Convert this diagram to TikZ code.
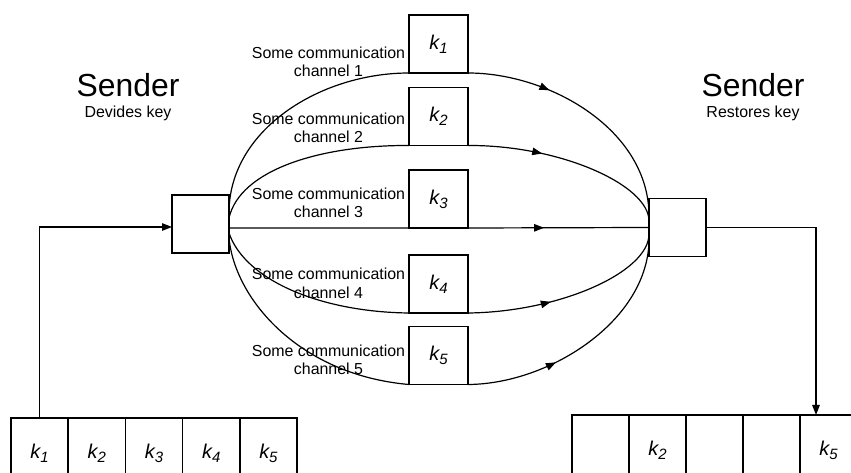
\documentclass[tikz,border=0pt]{standalone}
\usepackage{fontspec}
\setmainfont{Liberation Sans}
\usetikzlibrary{arrows.meta,decorations.markings}
\newcommand{\kk}[1]{\fontsize{20}{22}\selectfont\itshape k\raisebox{-4bp}{\fontsize{15}{15}\selectfont #1}}
\begin{document}
\begin{tikzpicture}[x=1bp,y=-1bp,
  box/.style={draw,line width=1.5bp,minimum width=57bp,minimum height=58bp,inner sep=0,outer sep=0},
  kbox/.style={draw,line width=1.5bp,minimum width=59bp,minimum height=58bp,inner sep=0,outer sep=0},
  cell/.style={draw,line width=1.5bp,minimum width=57.2bp,minimum height=70bp,inner sep=0,outer sep=0},
  chan/.style={line width=1.2bp},
  midarr/.style={postaction={decorate},decoration={markings,mark=at position #1 with {\arrow{Triangle[length=10bp,width=7.5bp]}}}},
  big/.style={font=\fontsize{32}{36}\selectfont,inner sep=0,anchor=base},
  small/.style={font=\fontsize{16}{19}\selectfont,inner sep=0,anchor=base},
  lab/.style={font=\fontsize{16}{19}\selectfont,inner sep=0,anchor=base},
  tip/.style={line width=1.2bp,-{Triangle[length=10bp,width=7.5bp]}}
]
\useasboundingbox (0,0) rectangle (851,473);
\clip (0,0) rectangle (851,473);

% titles
\node[big] (s1) at (128,97) {Sender};
\node[small] (s1b) at (128,118) {Devides key};
\node[big] (s2) at (753,97) {Sender};
\node[small] (s2b) at (753,118) {Restores key};

% main boxes
\node[box] (L) at (200.5,224) {};
\node[box] (R) at (677.5,227.5) {};

% key boxes
\node[kbox] (k1) at (438.5,44) {\kk{1}};
\node[kbox] (k2) at (438.5,116.5) {\kk{2}};
\node[kbox] (k3) at (438.5,199) {\kk{3}};
\node[kbox] (k4) at (438.5,284) {\kk{4}};
\node[kbox] (k5) at (438.5,355.5) {\kk{5}};

% channel labels
\node[lab] (c1a) at (328.5,59) {Some communication};
\node[lab] (c1b) at (328.5,77) {channel 1};
\node[lab] (c2a) at (328.5,125) {Some communication};
\node[lab] (c2b) at (328.5,143) {channel 2};
\node[lab] (c3a) at (328.5,200) {Some communication};
\node[lab] (c3b) at (328.5,218) {channel 3};
\node[lab] (c4a) at (328.5,280) {Some communication};
\node[lab] (c4b) at (328.5,299) {channel 4};
\node[lab] (c5a) at (328.5,357) {Some communication};
\node[lab] (c5b) at (328.5,375) {channel 5};

% convergence points
\coordinate (L1) at (229,213);
\coordinate (L2) at (229,218);
\coordinate (L3) at (229,228);
\coordinate (L4) at (229,233);
\coordinate (L5) at (229,238);
\coordinate (R1) at (649,216);
\coordinate (R2) at (649,221);
\coordinate (R4) at (649,234);
\coordinate (R5) at (649,239);

% channel 1
\draw[chan] (L1) .. controls (229,130) and (320,73) .. (k1.south west);
\draw[chan,midarr=0.33] (k1.south east) .. controls (550,73) and (649,130) .. (R1);
% channel 2
\draw[chan] (L2) .. controls (240,170) and (320,145) .. (k2.south west);
\draw[chan,midarr=0.36] (k2.south east) .. controls (560,145) and (649,185) .. (R2);
% channel 3
\draw[chan] (L3) -- (k3.south west);
\draw[chan,midarr=0.42] (k3.south east) -- (R.west);
% channel 4
\draw[chan] (L4) .. controls (245,280) and (320,312) .. (k4.south west);
\draw[chan,midarr=0.4] (k4.south east) .. controls (560,312) and (649,272) .. (R4);
% channel 5
\draw[chan] (L5) .. controls (235,300) and (300,375) .. (k5.south west);
\draw[chan,midarr=0.36] (k5.south east) .. controls (550,384) and (649,320) .. (R5);

% bottom-left array
\node[cell] (a1) at (39.6,453) {\kk{1}};
\node[cell] (a2) at (96.8,453) {\kk{2}};
\node[cell] (a3) at (154,453) {\kk{3}};
\node[cell] (a4) at (211.2,453) {\kk{4}};
\node[cell] (a5) at (268.4,453) {\kk{5}};

% bottom-right array
\node[cell] (b1) at (600.5,450) {};
\node[cell] (b2) at (657.5,450) {\kk{2}};
\node[cell] (b3) at (714.5,450) {};
\node[cell] (b4) at (771.5,450) {};
\node[cell] (b5) at (828.5,450) {\kk{5}};

% input / output
\draw[tip] (a1.north) |- ([yshift=-3bp]L.west);
\draw[tip] (R.east) -| ([xshift=-12.5bp]b5.north);
\end{tikzpicture}
\end{document}
